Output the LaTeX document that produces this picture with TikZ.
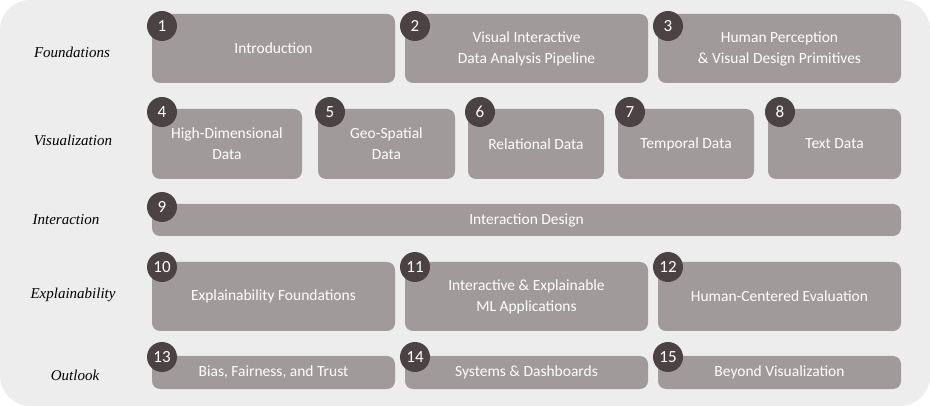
\documentclass[tikz,border=0pt]{standalone}
\usepackage{fontspec}
\setmainfont{Carlito}
\newfontfamily\handfont{Liberation Serif}[Scale=1.0]
\definecolor{bgc}{RGB}{237,237,237}
\definecolor{boxc}{RGB}{160,154,154}
\definecolor{numc}{RGB}{75,66,68}
\begin{document}
\begin{tikzpicture}[x=1pt,y=-1pt,
  chap/.style={fill=boxc,rounded corners=8pt},
  ctext/.style={text=white,font=\fontsize{15.5}{21}\selectfont,align=center},
  num/.style={circle,fill=numc,minimum size=30pt,inner sep=0pt,text=white,font=\fontsize{17}{18}\selectfont},
  lbl/.style={font=\handfont\itshape\fontsize{15}{16}\selectfont}]
\useasboundingbox (0,0) rectangle (930,406);
\fill[bgc,rounded corners=30pt] (0,0) rectangle (930,406);
% row labels
\node[lbl] (l1) at (72,52) {Foundations};
\node[lbl] (l2) at (73,140) {Visualization};
\node[lbl] (l3) at (66,220) {Interaction};
\node[lbl] (l4) at (73,295) {Explainability};
\node[lbl] (l5) at (75,375) {Outlook};
\newcommand{\chapbox}[8]{%
  \fill[chap] (#1,#3) rectangle (#2,#4);
  \node[ctext] (b#5) at ({(#1+#2)/2},{(#3+#4)/2}) {#8};
  \node[num] (n#5) at (#6,#7) {#5};}
\chapbox{152}{395}{14}{83}{1}{162}{26}{Introduction}
\chapbox{405}{648}{14}{83}{2}{415}{26}{Visual Interactive\\Data Analysis Pipeline}
\chapbox{658}{901}{14}{83}{3}{668}{26}{Human Perception\\\& Visual Design Primitives}
\chapbox{152}{302}{109}{179}{4}{162}{112}{High-Dimensional\\Data}
\chapbox{318}{455}{109}{179}{5}{330}{112}{Geo-Spatial\\Data}
\chapbox{468}{604}{109}{179}{6}{480}{112}{Relational Data}
\chapbox{618}{754}{109}{179}{7}{630}{112}{Temporal Data}
\chapbox{768}{901}{109}{179}{8}{780}{112}{Text Data}
\chapbox{152}{901}{204}{236}{9}{162}{207}{Interaction Design}
\chapbox{152}{395}{262}{331}{10}{162}{267}{Explainability Foundations}
\chapbox{405}{648}{262}{331}{11}{415}{267}{Interactive \& Explainable\\ML Applications}
\chapbox{658}{901}{262}{331}{12}{668}{267}{Human-Centered Evaluation}
\chapbox{152}{395}{356}{389}{13}{162}{357}{Bias, Fairness, and Trust}
\chapbox{405}{648}{356}{389}{14}{415}{357}{Systems \& Dashboards}
\chapbox{658}{901}{356}{389}{15}{668}{357}{Beyond Visualization}
\end{tikzpicture}
\end{document}
